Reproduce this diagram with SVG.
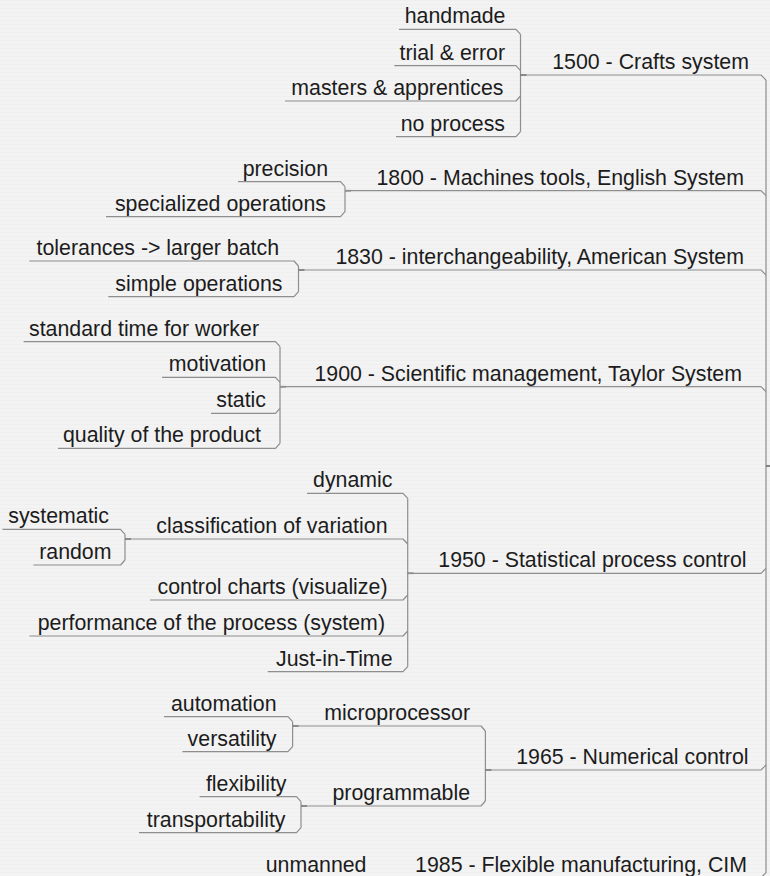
<svg xmlns="http://www.w3.org/2000/svg" width="770" height="876" viewBox="0 0 770 876">
<defs>
<pattern id="bg" width="8" height="4" patternUnits="userSpaceOnUse">
<rect width="8" height="4" fill="#f3f3f3"/>
<rect width="8" height="1" fill="#efefef"/>
</pattern>
<style>
text{font-family:"Liberation Sans",Arial,sans-serif;font-size:21.33px;fill:#1c1c1c;text-anchor:end}
path{fill:none;stroke:#8e8e8e;stroke-width:1.2;stroke-linejoin:round}
.stub{stroke:#6a6a6a;stroke-width:1.6}
</style>
</defs>
<rect width="770" height="876" fill="url(#bg)"/>

<g id="connectors">
<path d="M766,80 V872.7 L761,877.7"/>
<path class="stub" d="M766,466 H770"/>
<path d="M520.5,34.3 V131.7"/>
<path d="M345,186.7 V211.7"/>
<path d="M298.5,266 V291.7"/>
<path d="M280,346.7 V443.3"/>
<path d="M407.7,498.3 V666.7"/>
<path d="M125,534.3 V560"/>
<path d="M485.4,731 V801"/>
<path d="M292.6,721.7 V746.7"/>
<path d="M301,801.7 V827.7"/>
<path class="stub" d="M520.5,75 h6"/>
<path class="stub" d="M345,190.7 h6"/>
<path class="stub" d="M298.5,270 h6"/>
<path class="stub" d="M280,386.7 h6"/>
<path class="stub" d="M407.7,573.3 h6"/>
<path class="stub" d="M125,539 h6"/>
<path class="stub" d="M485.4,770 h6"/>
<path class="stub" d="M292.6,726 h6"/>
<path class="stub" d="M301,806 h6"/>
</g>

<g id="n1500"><path d="M520.5,75 H761 L766,80"/><text x="749" y="69">1500 - Crafts system</text></g>
<g id="n-handmade"><path d="M399,29.3 H516 L520.5,34.3"/><text x="505.5" y="23.3">handmade</text></g>
<g id="n-trial"><path d="M394.3,65.7 H516 L520.5,70.7"/><text x="505" y="59.7">trial &amp; error</text></g>
<g id="n-masters"><path d="M285,101 H516 L520.5,96"/><text x="503.5" y="95">masters &amp; apprentices</text></g>
<g id="n-noprocess"><path d="M396,136.7 H516 L520.5,131.7"/><text x="505" y="130.7">no process</text></g>

<g id="n1800"><path d="M345,190.7 H761 L766,195.7"/><text x="744" y="184.7">1800 - Machines tools, English System</text></g>
<g id="n-precision"><path d="M238,181.7 H340.5 L345,186.7"/><text x="328" y="175.7">precision</text></g>
<g id="n-specialized"><path d="M106,216.7 H340.5 L345,211.7"/><text x="326" y="210.7">specialized operations</text></g>

<g id="n1830"><path d="M298.5,270 H761 L766,275"/><text x="744" y="264">1830 - interchangeability, American System</text></g>
<g id="n-tolerances"><path d="M29.3,261 H294 L298.5,266"/><text x="279" y="255">tolerances -&gt; larger batch</text></g>
<g id="n-simple"><path d="M108.3,296.7 H294 L298.5,291.7"/><text x="282.5" y="290.7">simple operations</text></g>

<g id="n1900"><path d="M280,386.7 H761 L766,391.7"/><text x="742" y="380.7">1900 - Scientific management, Taylor System</text></g>
<g id="n-standard"><path d="M23.6,341.7 H275.5 L280,346.7"/><text x="259" y="335.7">standard time for worker</text></g>
<g id="n-motivation"><path d="M162,377.3 H275.5 L280,382.3"/><text x="266" y="371.3">motivation</text></g>
<g id="n-static"><path d="M211,413.3 H275.5 L280,408.3"/><text x="266" y="407.3">static</text></g>
<g id="n-quality"><path d="M58,448.3 H275.5 L280,443.3"/><text x="261" y="442.3">quality of the product</text></g>

<g id="n1950"><path d="M407.7,573.3 H761 L766,568.3"/><text x="746.5" y="567.3">1950 - Statistical process control</text></g>
<g id="n-dynamic"><path d="M307,493.3 H403 L407.7,498.3"/><text x="392.5" y="487.3">dynamic</text></g>
<g id="n-classification"><path d="M125,539 H403 L407.7,544"/><text x="387.5" y="533">classification of variation</text></g>
<g id="n-systematic"><path d="M2.5,529.3 H120.5 L125,534.3"/><text x="109" y="523.3">systematic</text></g>
<g id="n-random"><path d="M33.4,565 H120.5 L125,560"/><text x="111.5" y="559">random</text></g>
<g id="n-control"><path d="M150,600 H403 L407.7,595"/><text x="387.5" y="594">control charts (visualize)</text></g>
<g id="n-performance"><path d="M29.5,636 H403 L407.7,631"/><text x="385" y="630">performance of the process (system)</text></g>
<g id="n-jit"><path d="M267.7,671.7 H403 L407.7,666.7"/><text x="392.5" y="665.7">Just-in-Time</text></g>

<g id="n1965"><path d="M485.4,770 H761 L766,765"/><text x="748.5" y="764">1965 - Numerical control</text></g>
<g id="n-microprocessor"><path d="M292.6,726 H481 L485.4,731"/><text x="470" y="720">microprocessor</text></g>
<g id="n-automation"><path d="M164,716.7 H288 L292.6,721.7"/><text x="276.5" y="710.7">automation</text></g>
<g id="n-versatility"><path d="M182.4,751.7 H288 L292.6,746.7"/><text x="276.5" y="745.7">versatility</text></g>
<g id="n-programmable"><path d="M301,806 H481 L485.4,801"/><text x="470" y="800">programmable</text></g>
<g id="n-flexibility"><path d="M199.6,796.7 H296.5 L301,801.7"/><text x="286.5" y="790.7">flexibility</text></g>
<g id="n-transportability"><path d="M139,832.7 H296.5 L301,827.7"/><text x="285.5" y="826.7">transportability</text></g>

<g id="n1985"><path d="M385,877.7 H761"/><text x="747" y="871.7">1985 - Flexible manufacturing, CIM</text></g>
<g id="n-unmanned"><path d="M260,877.7 H385"/><text x="366.5" y="871.7">unmanned</text></g>
</svg>
